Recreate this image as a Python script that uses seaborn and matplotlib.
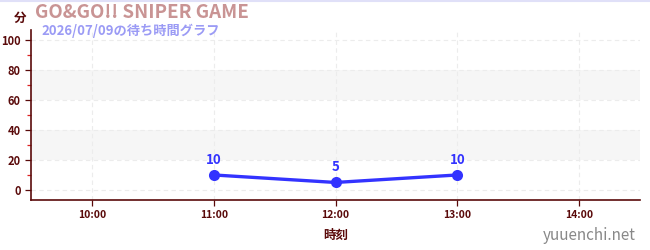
import matplotlib
matplotlib.use("Agg")
import matplotlib.pyplot as plt
import seaborn as sns
import pandas as pd
from matplotlib.lines import Line2D

sns.set_style("white")
plt.rcParams['font.family'] = ['Noto Sans CJK JP', 'DejaVu Sans']

hours = [11, 12, 13]
waits = [10, 5, 10]
xticks = [10, 11, 12, 13, 14]
xticklabels = ["10:00", "11:00", "12:00", "13:00", "14:00"]
yticks = [0, 20, 40, 60, 80, 100]
title = "GO&GO!! SNIPER GAME"
subtitle = "2026/07/09の待ち時間グラフ"

df = pd.DataFrame({"hour": hours, "wait": waits})

fig = plt.figure(figsize=(6.5, 2.5), dpi=100)
ax = fig.add_axes([31/650, 1-200/250, (640-31)/650, 170/250])

dark = "#5a0a0a"
for lo, hi in [(20, 40), (60, 80)]:
    ax.axhspan(lo, hi, color="#f6f6f6", zorder=0, lw=0)

sns.lineplot(data=df, x="hour", y="wait", ax=ax, color="#3333ff", lw=2.4,
             marker="o", markersize=8, markeredgewidth=0, zorder=3)
for h, w in zip(hours, waits):
    ax.annotate(str(w), (h, w), xytext=(0, 6), textcoords="offset points",
                ha="center", va="bottom", color="#3333ff", fontsize=9.5, fontweight="bold")

ax.set_xlim(9.5, 14.5)
ax.set_ylim(-6.7, 106.7)
ax.set_xticks(xticks)
ax.set_xticklabels(xticklabels)
ax.set_yticks(yticks)
ax.set_yticks([10, 30, 50, 70, 90], minor=True)
ax.grid(True, which="major", color="#ececec", ls=(0, (4, 3)), lw=0.8)
ax.tick_params(axis="both", which="major", length=4, width=0.9, color=dark,
               labelcolor=dark, labelsize=8)
ax.tick_params(axis="x", labelsize=7.5)
ax.tick_params(axis="y", which="minor", length=3, width=0.9, color="#dd2222", left=True)
ax.tick_params(axis="both", direction="out", left=True, bottom=True)
for lab in ax.get_xticklabels() + ax.get_yticklabels():
    lab.set_fontweight("bold")
for s in ["top", "right"]:
    ax.spines[s].set_visible(False)
for s in ["left", "bottom"]:
    ax.spines[s].set_color(dark)
    ax.spines[s].set_linewidth(1.2)

ax.set_xlabel("時刻", color=dark, fontsize=9, fontweight="bold", labelpad=6)
ax.set_ylabel("")

fig.text(14/650, 1-18/250, "分", color=dark, fontsize=9, fontweight="bold", ha="left", va="center")
fig.text(35/650, 1-13/250, title, color="#c99494", fontsize=13.5, fontweight="bold", ha="left", va="center")
fig.text(41/650, 1-31/250, subtitle, color="#9b9bf5", fontsize=9.5, fontweight="bold", ha="left", va="center")
fig.text(636/650, 1-235/250, "yuuenchi.net", color="#888888", fontsize=11, ha="right", va="center")
fig.add_artist(Line2D([0, 1], [1-1/250, 1-1/250], color="#e0e0f8", lw=1.5, transform=fig.transFigure))

fig.savefig("out.png", dpi=100)
